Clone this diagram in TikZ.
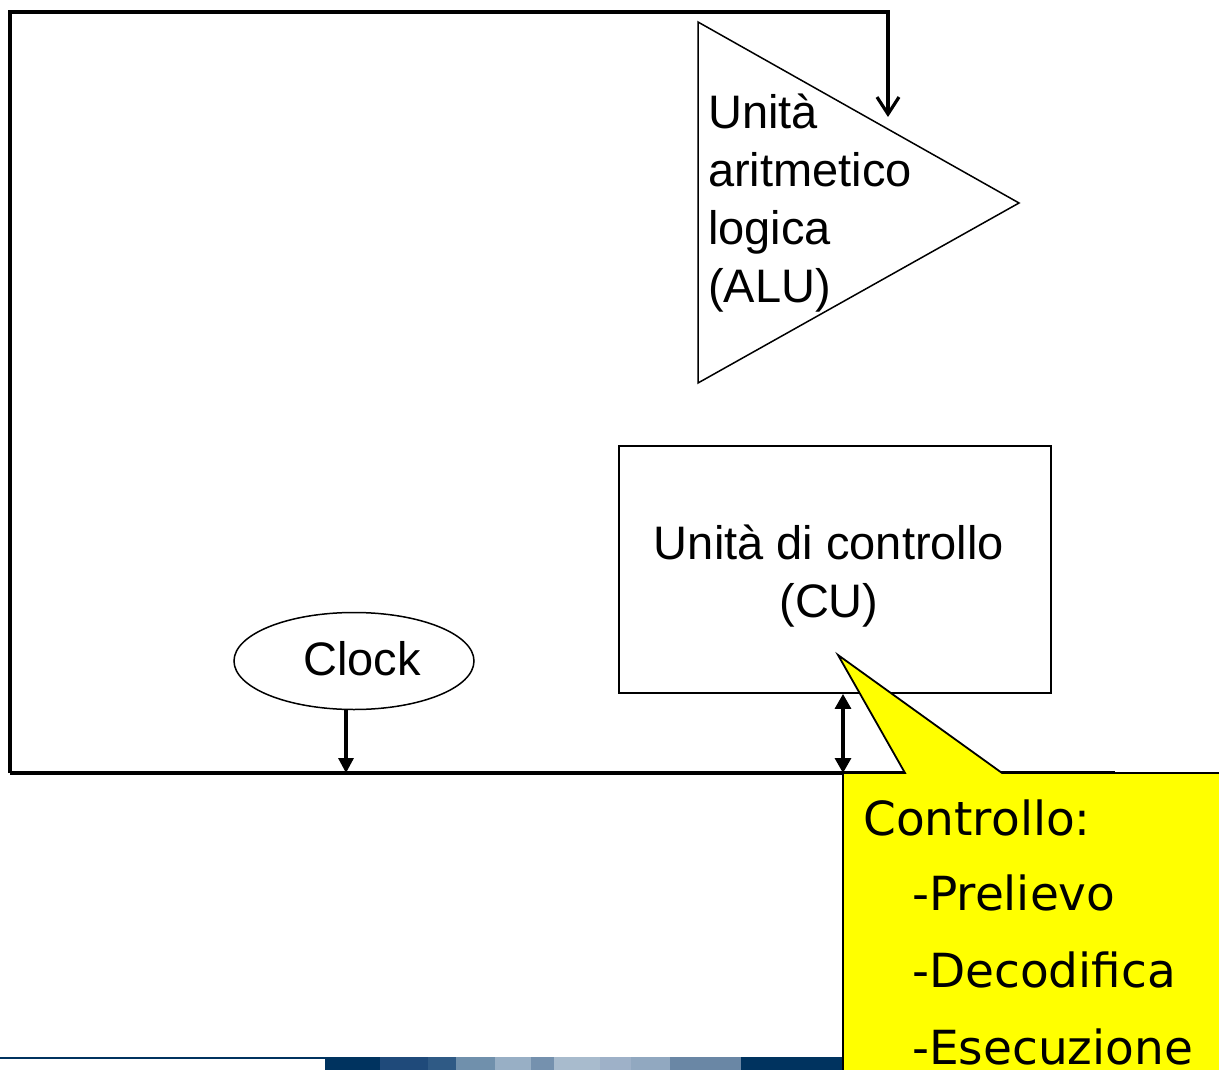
\documentclass[tikz,border=0pt]{standalone}
\usepackage{fontspec}
\setmainfont{Liberation Sans}
\newfontfamily\callfont{DejaVu Sans}
\usetikzlibrary{arrows.meta,shapes.geometric}
\definecolor{navy}{HTML}{00335F}
\definecolor{calloutyellow}{HTML}{FFFF00}
\tikzset{
  wire/.style={line width=3.2pt},
  thin outline/.style={draw=black,line width=1.5pt},
  big/.style={font=\fontsize{47}{58}\selectfont},
  callouttext/.style={font=\callfont\fontsize{47}{75}\selectfont,anchor=base west,inner sep=0pt},
  headfill/.style={-{Triangle[length=15pt,width=15pt]}},
  headboth/.style={{Triangle[length=15pt,width=16pt]}-{Triangle[length=15pt,width=16pt]}},
  headopen/.style={-{Straight Barb[length=17pt,width=22pt]}},
}
\begin{document}
\begin{tikzpicture}[x=1pt,y=-1pt]
\useasboundingbox (0,0) rectangle (1219,1070);
\clip (0,0) rectangle (1219,1070);
\fill[white] (0,0) rectangle (1219,1070);

% footer band
\draw[navy,line width=2pt] (0,1058) -- (325,1058);
\foreach \a/\b/\c in {325/380/00335F,380/428/1F4A7A,428/456/2F5A85,456/495/7090AC,
  495/531/98AFC5,531/554/7591AE,554/600/A8BBCD,600/631/9EB1C8,631/670/91A8C0,
  670/741/6A87A5,741/843/00335F}
  {\definecolor{band}{HTML}{\c}\fill[band] (\a,1057) rectangle (\b,1070);}

% arithmetic logic unit
\coordinate (aluA) at (698,22);
\coordinate (aluB) at (1019,203);
\coordinate (aluC) at (698,383);
\draw[thin outline,fill=white] (aluA) -- (aluB) -- (aluC) -- cycle;
\node[big,align=left,anchor=north west,inner sep=0pt] (alutext) at (708,94)
  {Unità\\aritmetico\\logica\\(ALU)};

% control unit
\node[thin outline,line width=1.8pt,minimum width=432pt,minimum height=247pt,
  inner sep=0pt] (cu) at (835,569.5) {};
\node[big,align=center,inner sep=0pt] (cutext) at (829,576)
  {Unità di controllo\\(CU)};

% clock
\node[ellipse,thin outline,minimum width=240pt,minimum height=97pt,
  inner sep=0pt] (clock) at (354,661) {};
\node[big,inner sep=0pt] (clocktext) at (362,659) {Clock};

% bus and frame
\coordinate (tl) at (10,12);
\coordinate (tr) at (888,12);
\coordinate (aluin) at (888,117);
\coordinate (bl) at (10,773);
\coordinate (br) at (1115,773);
\draw[wire,headopen] (bl) -- (tl) -- (tr) -- (aluin);
\draw[wire] (bl) -- (br);
\draw[wire,headfill] ([xshift=-8pt]clock.south) -- ([xshift=-8pt]clock.south |- bl);
\draw[wire,headboth] ([xshift=8pt]cu.south) -- ([xshift=8pt]cu.south |- bl);

% callout
\coordinate (tip) at (838,655);
\draw[fill=calloutyellow,line width=1.8pt,line join=miter]
  (843,1080) -- (843,773) -- (905,773) -- (tip) -- (1002,773) -- (1230,773) -- (1230,1080) -- cycle;
\node[callouttext] (c1) at (863,835) {Controllo:};
\node[callouttext] (c2) at (912,910) {-Prelievo};
\node[callouttext] (c3) at (912,987) {-Decodifica};
\node[callouttext] (c4) at (912,1064) {-Esecuzione};
\end{tikzpicture}
\end{document}
